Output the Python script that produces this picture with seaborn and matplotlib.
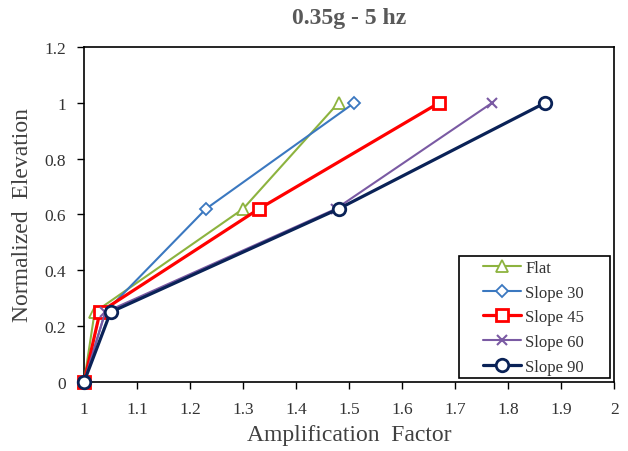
import matplotlib
matplotlib.use("Agg")
import matplotlib.pyplot as plt
from matplotlib.patches import Rectangle
import seaborn as sns
import pandas as pd

sns.set_theme(style="white")
plt.rcParams['font.family'] = ['Liberation Serif', 'DejaVu Serif']

elev = [0, 0.25, 0.62, 1.0]
flat = [1.0, 1.02, 1.30, 1.48]
slope30 = [1.0, 1.04, 1.23, 1.51]
slope45 = [1.0, 1.03, 1.33, 1.67]
slope60 = [1.0, 1.04, 1.475, 1.77]
slope90 = [1.0, 1.05, 1.48, 1.87]
names = ["Flat", "Slope 30", "Slope 45", "Slope 60", "Slope 90"]
series = [flat, slope30, slope45, slope60, slope90]
xticks = [1, 1.1, 1.2, 1.3, 1.4, 1.5, 1.6, 1.7, 1.8, 1.9, 2]
yticks = [0, 0.2, 0.4, 0.6, 0.8, 1, 1.2]

styles = {
    "Flat": dict(color="#8db33f", marker="^", lw=1.5, ms=8, mew=1.3),
    "Slope 30": dict(color="#3b78c0", marker="D", lw=1.5, ms=6, mew=1.3),
    "Slope 45": dict(color="#ff0000", marker="s", lw=2.3, ms=9, mew=2.0),
    "Slope 60": dict(color="#7a5aa3", marker="x", lw=1.5, ms=7, mew=1.5),
    "Slope 90": dict(color="#0a2257", marker="o", lw=2.3, ms=9, mew=2.0),
}

fig = plt.figure(figsize=(6.28, 4.52), dpi=100)
ax = fig.add_axes([0.1338, 0.1527, 0.978 - 0.1338, 0.894 - 0.1527])

for name, xs in zip(names, series):
    st = styles[name]
    df = pd.DataFrame({"x": xs, "y": elev})
    sns.lineplot(data=df, x="x", y="y", ax=ax, sort=False, estimator=None,
                 color=st["color"], marker=st["marker"], linewidth=st["lw"],
                 markersize=st["ms"], markeredgewidth=st["mew"],
                 markerfacecolor="white", markeredgecolor=st["color"],
                 label=name, clip_on=False, zorder=3)

ax.set_xlim(1, 2)
ax.set_ylim(0, 1.2)
ax.set_xticks(xticks)
ax.set_xticklabels([f"{t:g}" for t in xticks])
ax.set_yticks(yticks)
ax.set_yticklabels([f"{t:g}" for t in yticks])
ax.tick_params(direction="out", length=5, width=1, color="black",
               labelsize=12.5, labelcolor="#333333", bottom=True, left=True)
ax.tick_params(axis="x", pad=8.5)
ax.tick_params(axis="y", pad=8)
for s in ax.spines.values():
    s.set_color("black")
    s.set_linewidth(1.2)

ax.set_xlabel("Amplification  Factor", fontsize=17, color="#404040", labelpad=5)
ax.set_ylabel("Normalized  Elevation", fontsize=17, color="#404040", labelpad=8)
ax.set_title("0.35g - 5 hz", fontsize=17, fontweight="bold", color="#595959", pad=17)

leg = ax.legend(loc="lower right", bbox_to_anchor=(0.943, 0.022), borderaxespad=0,
                fontsize=12, frameon=False,
                handlelength=2.3, handletextpad=0.25, labelspacing=0.52,
                borderpad=0.0)
leg.set_zorder(6)
for t in leg.get_texts():
    t.set_color("#333333")

fig.canvas.draw()
bb = leg.get_window_extent()
inv = ax.transAxes.inverted()
(x0, y0) = inv.transform((bb.x0 - 24, bb.y0 - 3))
(x1, y1) = inv.transform((bb.x1 + 26, bb.y1 + 4))
frame = Rectangle((x0, y0), x1 - x0, y1 - y0, transform=ax.transAxes,
                  facecolor="white", edgecolor="black", linewidth=1.2,
                  zorder=5, clip_on=False)
ax.add_patch(frame)

fig.savefig("out.png", dpi=100)
